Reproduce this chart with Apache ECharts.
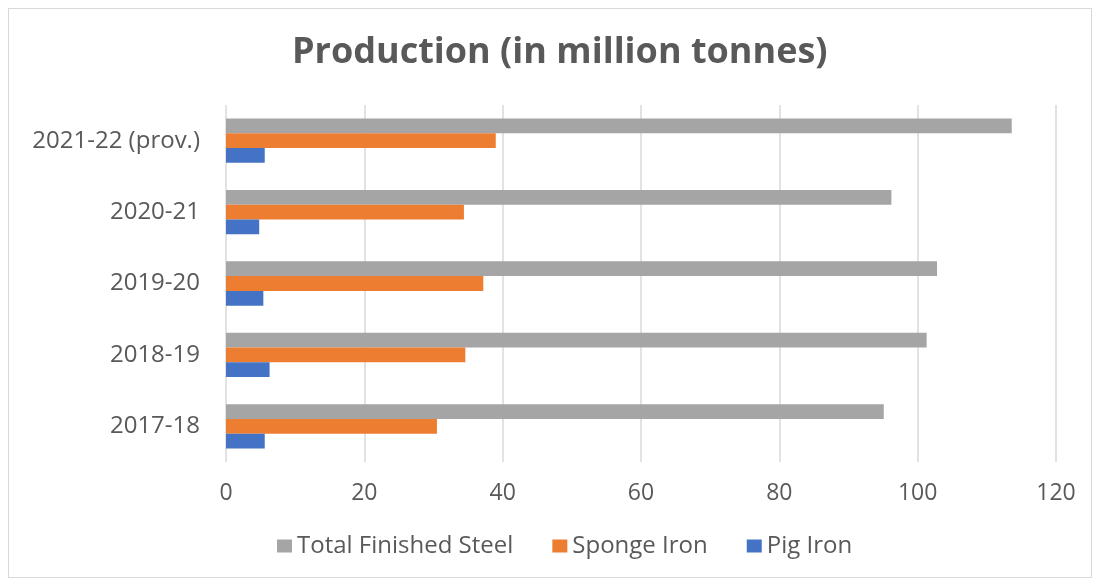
<!DOCTYPE html>
<html><head><meta charset="utf-8">
<script src="https://cdn.jsdelivr.net/npm/echarts@6/dist/echarts.min.js"></script>
<style>
html,body{margin:0;padding:0;background:#fff;}
#frame{position:absolute;left:8px;top:8px;width:1084px;height:570px;border:1px solid #d9d9d9;box-sizing:border-box;}
#c{position:absolute;left:0;top:0;width:1100px;height:582px;}
</style></head>
<body>
<div id="frame"></div>
<div id="c"></div>
<script>
const categories = ['2017-18','2018-19','2019-20','2020-21','2021-22 (prov.)'];
const totalFinishedSteel = [95.1, 101.3, 102.8, 96.2, 113.6];
const spongeIron = [30.5, 34.6, 37.2, 34.4, 39.0];
const pigIron = [5.6, 6.3, 5.4, 4.8, 5.6];
const xTicks = [0, 20, 40, 60, 80, 100, 120];
const seriesNames = ['Total Finished Steel','Sponge Iron','Pig Iron'];

const chart = echarts.init(document.getElementById('c'), null, {renderer:'canvas'});
const font = 'Open Sans';
chart.setOption({
  animation:false,
  title:{text:'Production (in million tonnes)', left:287, top:30, padding:5,
    textStyle:{fontFamily:font, fontWeight:'bold', fontSize:36, color:'#595959'}},
  legend:{data:seriesNames, bottom:19, left:272, itemWidth:15, itemHeight:13, itemGap:39,
    padding:5, icon:'rect', textStyle:{fontFamily:font, fontSize:24, color:'#595959'}},
  grid:{left:226, right:44, top:105, bottom:120, containLabel:false},
  xAxis:{type:'value', min:xTicks[0], max:xTicks[xTicks.length-1], interval:20,
    axisLine:{show:false}, axisTick:{show:false},
    splitLine:{lineStyle:{color:'#d9d9d9', width:1.5}},
    axisLabel:{fontFamily:font, fontSize:23, color:'#595959', margin:20}},
  yAxis:{type:'category', data:categories,
    axisLine:{show:false}, axisTick:{show:false},
    axisLabel:{fontFamily:font, fontSize:24, color:'#595959', margin:26}},
  series:[
    {name:seriesNames[0], type:'bar', data:totalFinishedSteel, itemStyle:{color:'#a5a5a5'}, barGap:'0%', barCategoryGap:'38%'},
    {name:seriesNames[1], type:'bar', data:spongeIron, itemStyle:{color:'#ed7d31'}},
    {name:seriesNames[2], type:'bar', data:pigIron, itemStyle:{color:'#4472c4'}}
  ]
});
</script>
</body></html>
